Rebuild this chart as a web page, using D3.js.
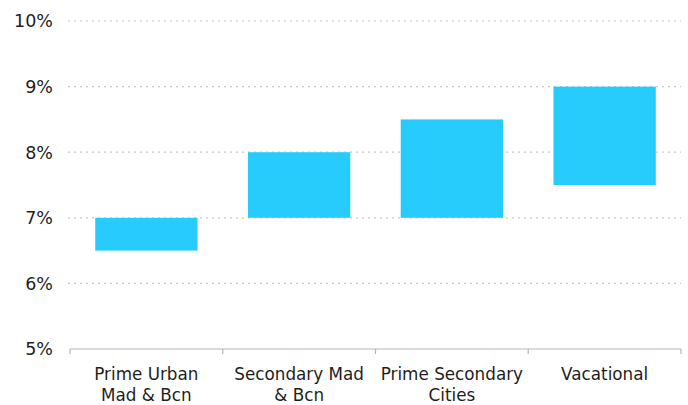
<!DOCTYPE html>
<html>
<head>
<meta charset="utf-8">
<script src="https://cdn.jsdelivr.net/npm/d3@7"></script>
<style>
  html, body { margin: 0; padding: 0; background: #fff; }
  svg { display: block; }
  text { font-family: "DejaVu Sans", "Open Sans", sans-serif; fill: #1e1e1e; }
</style>
</head>
<body>
<svg id="chart" width="688" height="405"></svg>
<script>
// Yield ranges by segment (low and high bounds, in %)
const categories = [["Prime Urban", "Mad & Bcn"], ["Secondary Mad", "& Bcn"], ["Prime Secondary", "Cities"], ["Vacational"]];
const lowValues = [6.5, 7.0, 7.0, 7.5];
const highValues = [7.0, 8.0, 8.5, 9.0];
const yTicks = [5, 6, 7, 8, 9, 10];

const svg = d3.select("#chart");
const plotLeft = 70, plotRight = 681, plotTop = 21, plotBottom = 349;

const x = d3.scaleBand()
  .domain(d3.range(categories.length))
  .range([plotLeft, plotRight])
  .paddingInner(0.33)
  .paddingOuter(0.165);

const xOuter = d3.scaleBand()
  .domain(d3.range(categories.length))
  .range([plotLeft, plotRight]);

const y = d3.scaleLinear().domain([5, 10]).range([plotBottom, plotTop]);

// Dotted gridlines
svg.append("g")
  .selectAll("line")
  .data(yTicks.filter(t => t > 5))
  .join("line")
  .attr("x1", plotLeft - 2)
  .attr("x2", plotRight)
  .attr("y1", d => y(d))
  .attr("y2", d => y(d))
  .attr("stroke", "#c8c8c8")
  .attr("stroke-width", 1.2)
  .attr("stroke-dasharray", "2,4");

// Y tick labels
svg.append("g")
  .selectAll("text")
  .data(yTicks)
  .join("text")
  .attr("x", 53)
  .attr("y", d => y(d))
  .attr("dy", "0.36em")
  .attr("text-anchor", "end")
  .attr("font-size", 17.5)
  .text(d => d + "%");

// Floating range bars
svg.append("g")
  .selectAll("rect")
  .data(categories.map((c, i) => ({ i, lo: lowValues[i], hi: highValues[i] })))
  .join("rect")
  .attr("x", d => x(d.i))
  .attr("width", x.bandwidth())
  .attr("y", d => y(d.hi))
  .attr("height", d => y(d.lo) - y(d.hi))
  .attr("fill", "#27ccfd");

// X axis line with band-boundary ticks
const axis = svg.append("g");
axis.append("line")
  .attr("x1", plotLeft).attr("x2", plotRight)
  .attr("y1", plotBottom).attr("y2", plotBottom)
  .attr("stroke", "#b5b5b5").attr("stroke-width", 1.2);
const bounds = d3.range(categories.length).map(i => xOuter(i)).concat([plotRight]);
axis.selectAll("line.tick")
  .data(bounds)
  .join("line")
  .attr("class", "tick")
  .attr("x1", d => d).attr("x2", d => d)
  .attr("y1", plotBottom).attr("y2", plotBottom + 5)
  .attr("stroke", "#b5b5b5").attr("stroke-width", 1.2);

// Category labels
const labels = svg.append("g")
  .selectAll("text")
  .data(categories)
  .join("text")
  .attr("x", (d, i) => xOuter(i) + xOuter.bandwidth() / 2)
  .attr("y", 380)
  .attr("text-anchor", "middle")
  .attr("font-size", 16.8);
labels.selectAll("tspan")
  .data(d => d)
  .join("tspan")
  .attr("x", function () { return this.parentNode.getAttribute("x"); })
  .attr("dy", (d, j) => j === 0 ? 0 : 21)
  .text(d => d);
</script>
</body>
</html>
